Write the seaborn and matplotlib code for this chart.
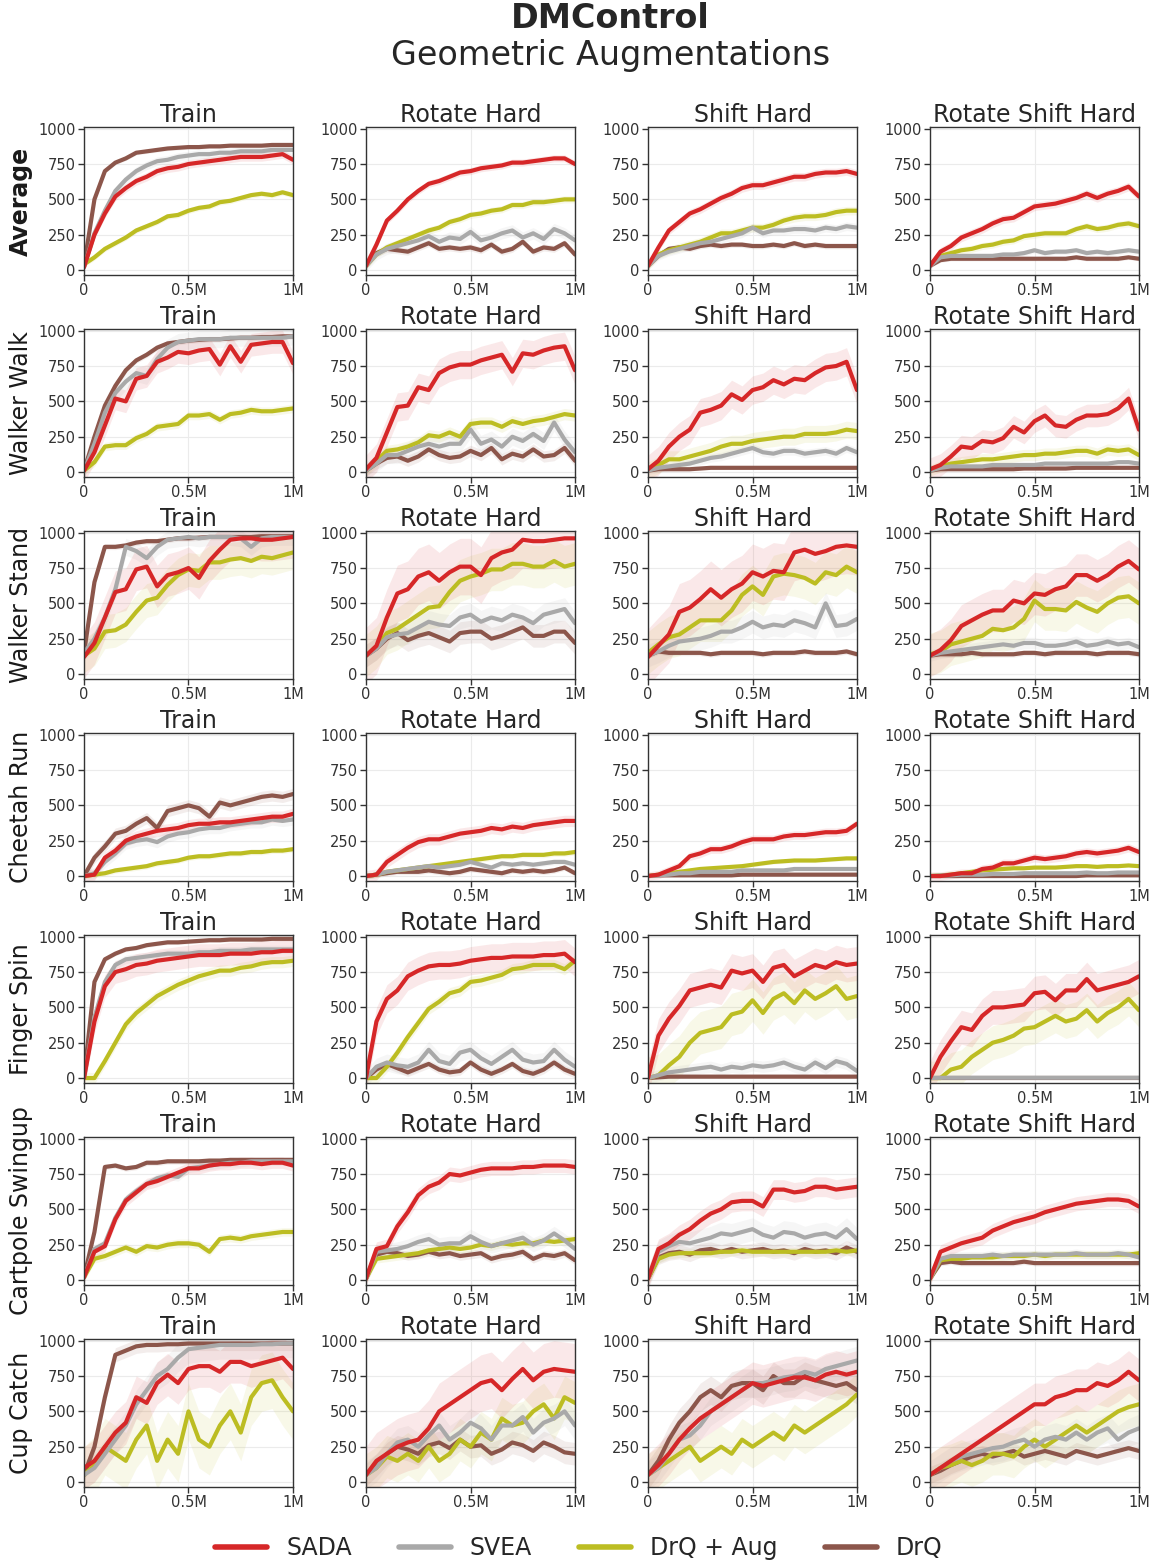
import numpy as np
import pandas as pd
import seaborn as sns
import matplotlib.pyplot as plt
from matplotlib.lines import Line2D

# x axis: evaluation every 50k steps
steps = np.arange(0, 1_000_001, 50_000)

tasks = ["Average", "Walker Walk", "Walker Stand", "Cheetah Run",
         "Finger Spin", "Cartpole Swingup", "Cup Catch"]
settings = ["Train", "Rotate Hard", "Shift Hard", "Rotate Shift Hard"]
methods = ["SADA", "SVEA", "DrQ + Aug", "DrQ"]

# each variable: [train, rotate hard, shift hard, rotate shift hard]
average_sada = [
    [20, 250, 400, 520, 580, 630, 660, 700, 720, 730, 750, 760, 770, 780, 790, 800, 800, 800, 810, 820, 780],
    [30, 180, 350, 420, 500, 560, 610, 630, 660, 690, 700, 720, 730, 740, 760, 760, 770, 780, 790, 790, 750],
    [30, 160, 280, 340, 400, 430, 470, 510, 540, 580, 600, 600, 620, 640, 660, 660, 680, 690, 690, 700, 680],
    [30, 130, 170, 230, 260, 290, 330, 360, 370, 410, 450, 460, 470, 490, 510, 540, 510, 540, 560, 590, 520],
]
average_svea = [
    [20, 260, 420, 560, 640, 700, 740, 770, 780, 800, 810, 820, 820, 830, 830, 840, 840, 840, 850, 850, 850],
    [30, 110, 150, 170, 190, 210, 240, 200, 230, 220, 270, 210, 230, 260, 280, 230, 260, 220, 290, 260, 210],
    [30, 100, 130, 150, 170, 190, 200, 220, 240, 260, 300, 260, 280, 280, 290, 290, 280, 300, 290, 310, 300],
    [30, 90, 100, 100, 100, 100, 100, 110, 110, 120, 140, 120, 130, 130, 140, 120, 130, 120, 130, 140, 130],
]
average_aug = [
    [40, 90, 150, 190, 230, 280, 310, 340, 380, 390, 420, 440, 450, 480, 490, 510, 530, 540, 530, 550, 530],
    [30, 110, 160, 190, 220, 250, 280, 300, 340, 360, 390, 400, 420, 430, 460, 460, 480, 480, 490, 500, 500],
    [30, 110, 140, 160, 180, 200, 230, 260, 260, 280, 300, 300, 320, 350, 370, 380, 380, 390, 410, 420, 420],
    [40, 100, 120, 140, 150, 170, 180, 200, 210, 240, 250, 260, 260, 260, 290, 310, 290, 300, 320, 330, 310],
]
average_drq = [
    [30, 500, 700, 760, 790, 830, 840, 850, 860, 865, 870, 870, 875, 875, 880, 880, 880, 880, 885, 885, 885],
    [30, 120, 150, 140, 130, 160, 190, 150, 160, 150, 160, 140, 180, 130, 150, 200, 130, 160, 150, 190, 110],
    [30, 100, 150, 160, 150, 170, 180, 170, 180, 180, 170, 170, 180, 170, 190, 170, 180, 170, 170, 170, 170],
    [30, 70, 80, 80, 80, 80, 80, 80, 80, 80, 80, 80, 80, 80, 90, 80, 80, 80, 80, 90, 80],
]

walker_walk_sada = [
    [10, 140, 330, 520, 500, 660, 680, 780, 810, 850, 840, 860, 870, 760, 890, 780, 900, 910, 920, 920, 770],
    [20, 100, 280, 460, 470, 600, 580, 700, 740, 760, 760, 790, 810, 830, 710, 840, 830, 860, 880, 890, 720],
    [20, 80, 180, 250, 300, 420, 440, 470, 550, 510, 580, 600, 650, 620, 660, 650, 700, 740, 750, 780, 580],
    [20, 50, 110, 180, 170, 220, 210, 240, 320, 280, 360, 400, 330, 320, 370, 400, 400, 410, 450, 520, 300],
]
walker_walk_svea = [
    [10, 200, 420, 560, 640, 700, 680, 800, 880, 920, 930, 940, 940, 940, 950, 950, 950, 950, 950, 950, 960],
    [10, 60, 120, 120, 150, 180, 200, 180, 200, 200, 300, 200, 230, 180, 250, 220, 270, 220, 350, 230, 140],
    [10, 30, 40, 50, 60, 80, 100, 110, 130, 150, 170, 140, 130, 150, 150, 130, 140, 150, 130, 170, 140],
    [10, 30, 40, 40, 40, 40, 50, 50, 50, 50, 50, 60, 60, 60, 60, 60, 60, 60, 70, 70, 60],
]
walker_walk_aug = [
    [10, 70, 180, 190, 190, 240, 270, 320, 330, 340, 400, 400, 410, 370, 410, 420, 440, 430, 430, 440, 450],
    [10, 80, 150, 160, 180, 210, 260, 250, 280, 250, 340, 350, 350, 320, 360, 340, 360, 370, 390, 410, 400],
    [10, 50, 90, 90, 110, 130, 150, 180, 200, 200, 220, 230, 240, 250, 250, 270, 270, 270, 280, 300, 290],
    [10, 40, 60, 70, 80, 90, 90, 100, 110, 120, 120, 130, 130, 140, 150, 150, 130, 160, 150, 160, 120],
]
walker_walk_drq = [
    [10, 250, 470, 610, 720, 790, 830, 880, 910, 920, 930, 935, 940, 940, 945, 950, 950, 955, 955, 960, 960],
    [10, 60, 100, 110, 80, 110, 160, 120, 100, 110, 150, 120, 170, 90, 130, 110, 160, 110, 120, 170, 80],
    [10, 20, 20, 20, 20, 25, 30, 30, 30, 30, 30, 30, 30, 30, 30, 30, 30, 30, 30, 30, 30],
    [10, 20, 20, 20, 20, 20, 20, 20, 20, 25, 25, 25, 25, 25, 30, 30, 30, 30, 30, 30, 30],
]

walker_stand_sada = [
    [120, 220, 400, 580, 600, 740, 760, 620, 700, 720, 750, 680, 800, 880, 950, 960, 960, 950, 950, 960, 970],
    [130, 200, 400, 570, 600, 690, 720, 660, 720, 760, 760, 700, 820, 860, 880, 950, 940, 940, 950, 960, 960],
    [120, 200, 280, 440, 470, 530, 600, 540, 600, 640, 720, 690, 730, 720, 860, 880, 850, 870, 900, 910, 900],
    [130, 170, 240, 340, 380, 420, 450, 450, 520, 500, 570, 560, 600, 620, 700, 700, 660, 700, 760, 800, 740],
]
walker_stand_svea = [
    [150, 250, 400, 600, 900, 870, 820, 900, 950, 960, 970, 960, 970, 970, 970, 960, 900, 960, 970, 970, 970],
    [130, 180, 260, 280, 290, 330, 370, 350, 340, 400, 420, 370, 400, 380, 420, 400, 360, 420, 440, 460, 360],
    [130, 160, 200, 230, 240, 250, 270, 300, 300, 330, 370, 330, 350, 340, 380, 360, 330, 500, 340, 350, 390],
    [130, 150, 160, 170, 180, 190, 200, 210, 200, 220, 220, 200, 200, 210, 230, 200, 210, 230, 210, 220, 190],
]
walker_stand_aug = [
    [130, 180, 300, 310, 350, 440, 520, 540, 630, 700, 740, 730, 790, 790, 810, 820, 800, 830, 820, 840, 860],
    [130, 190, 290, 320, 370, 420, 470, 480, 580, 660, 690, 710, 740, 740, 780, 780, 760, 760, 800, 760, 780],
    [150, 210, 260, 280, 330, 380, 380, 380, 450, 560, 620, 560, 690, 710, 700, 680, 640, 720, 700, 760, 720],
    [140, 160, 210, 230, 250, 270, 320, 310, 330, 390, 520, 460, 460, 450, 510, 470, 440, 500, 540, 550, 500],
]
walker_stand_drq = [
    [150, 650, 900, 900, 910, 930, 940, 940, 950, 960, 960, 965, 970, 970, 970, 970, 970, 975, 975, 975, 975],
    [130, 180, 250, 290, 240, 270, 290, 260, 230, 290, 300, 300, 250, 270, 300, 330, 270, 270, 300, 300, 220],
    [130, 160, 150, 150, 150, 150, 140, 150, 150, 150, 150, 140, 150, 150, 150, 160, 150, 150, 150, 160, 140],
    [130, 140, 140, 140, 150, 140, 140, 140, 140, 150, 150, 140, 150, 150, 150, 150, 140, 150, 150, 150, 140],
]

cheetah_run_sada = [
    [0, 10, 130, 180, 250, 280, 300, 320, 330, 340, 360, 370, 370, 380, 380, 390, 400, 410, 420, 420, 440],
    [0, 10, 100, 150, 200, 240, 260, 260, 280, 300, 310, 320, 340, 330, 350, 340, 360, 370, 380, 390, 390],
    [0, 10, 40, 70, 140, 160, 190, 190, 210, 240, 260, 260, 260, 280, 290, 290, 300, 310, 310, 320, 370],
    [0, 0, 10, 20, 20, 50, 60, 90, 90, 110, 130, 120, 130, 140, 160, 170, 160, 170, 180, 200, 170],
]
cheetah_run_svea = [
    [0, 20, 100, 160, 230, 250, 260, 240, 280, 300, 310, 330, 340, 340, 360, 370, 380, 380, 400, 390, 400],
    [0, 10, 30, 40, 50, 60, 70, 60, 70, 80, 100, 80, 60, 90, 80, 90, 80, 90, 100, 100, 80],
    [0, 5, 10, 20, 20, 30, 30, 30, 30, 40, 40, 40, 40, 40, 50, 50, 50, 50, 50, 50, 50],
    [0, 5, 5, 10, 10, 10, 15, 15, 15, 20, 20, 20, 20, 20, 20, 25, 20, 20, 25, 25, 25],
]
cheetah_run_aug = [
    [0, 10, 20, 40, 50, 60, 70, 90, 100, 110, 130, 140, 140, 150, 160, 160, 170, 170, 180, 180, 190],
    [0, 10, 30, 40, 50, 60, 70, 80, 90, 100, 110, 120, 130, 140, 140, 150, 150, 150, 160, 160, 170],
    [0, 10, 20, 30, 40, 50, 55, 60, 65, 70, 80, 90, 100, 105, 110, 110, 110, 115, 120, 125, 125],
    [0, 5, 10, 20, 30, 40, 45, 50, 55, 55, 60, 60, 60, 65, 70, 70, 65, 70, 70, 75, 70],
]
cheetah_run_drq = [
    [0, 130, 210, 300, 320, 370, 410, 340, 460, 480, 500, 480, 420, 520, 500, 520, 540, 560, 570, 560, 580],
    [0, 10, 20, 30, 30, 30, 40, 30, 20, 30, 50, 40, 30, 20, 40, 30, 40, 30, 40, 60, 20],
    [0, 5, 5, 5, 5, 5, 5, 5, 5, 10, 10, 10, 10, 10, 10, 10, 10, 10, 10, 10, 10],
    [0, 0, 0, 0, 0, 0, 0, 0, 0, 0, 0, 0, 0, 0, 0, 5, 5, 5, 5, 5, 5],
]

finger_spin_sada = [
    [0, 400, 650, 750, 770, 800, 810, 830, 840, 850, 860, 870, 870, 870, 880, 880, 880, 890, 890, 900, 900],
    [0, 400, 560, 620, 720, 760, 790, 800, 800, 810, 830, 840, 850, 850, 860, 860, 860, 870, 870, 880, 820],
    [0, 300, 420, 510, 620, 640, 660, 640, 760, 740, 760, 680, 780, 800, 720, 760, 800, 780, 820, 800, 810],
    [0, 150, 260, 360, 340, 440, 500, 500, 510, 520, 600, 610, 550, 620, 620, 700, 620, 640, 660, 680, 720],
]
finger_spin_svea = [
    [0, 430, 680, 800, 840, 850, 860, 870, 880, 880, 880, 890, 890, 900, 900, 900, 910, 910, 910, 910, 910],
    [0, 80, 110, 90, 80, 110, 200, 120, 100, 180, 200, 140, 100, 150, 200, 130, 110, 120, 200, 130, 80],
    [0, 20, 40, 50, 60, 70, 80, 60, 80, 70, 90, 80, 90, 110, 80, 60, 110, 70, 120, 100, 50],
    [0, 2, 2, 2, 2, 2, 2, 2, 2, 2, 2, 2, 2, 2, 2, 2, 2, 2, 2, 2, 2],
]
finger_spin_aug = [
    [0, 0, 120, 250, 380, 460, 520, 580, 620, 660, 690, 720, 740, 760, 760, 780, 790, 810, 820, 820, 830],
    [0, 0, 80, 180, 290, 390, 490, 540, 600, 620, 680, 690, 710, 730, 770, 780, 800, 800, 800, 770, 830],
    [0, 20, 90, 150, 250, 320, 340, 360, 450, 470, 550, 460, 560, 600, 530, 620, 560, 600, 650, 560, 580],
    [0, 0, 60, 80, 150, 200, 250, 270, 300, 350, 360, 400, 440, 400, 420, 480, 400, 460, 500, 560, 480],
]
finger_spin_drq = [
    [0, 680, 840, 880, 910, 920, 940, 950, 960, 960, 965, 970, 975, 975, 980, 980, 980, 980, 985, 985, 985],
    [0, 60, 100, 70, 40, 70, 100, 60, 40, 50, 110, 60, 30, 60, 100, 50, 30, 60, 110, 60, 30],
    [0, 5, 10, 10, 10, 10, 10, 10, 10, 10, 10, 10, 10, 10, 10, 10, 10, 10, 10, 10, 10],
    [0, 0, 0, 0, 0, 0, 0, 0, 0, 0, 0, 0, 0, 0, 0, 0, 0, 0, 0, 0, 0],
]

cartpole_sada = [
    [20, 200, 240, 430, 560, 620, 680, 700, 730, 760, 790, 790, 810, 820, 820, 830, 830, 820, 830, 830, 810],
    [10, 220, 240, 380, 480, 600, 660, 690, 750, 740, 760, 780, 790, 790, 790, 800, 800, 810, 810, 810, 800],
    [10, 220, 260, 320, 360, 420, 470, 500, 550, 560, 560, 520, 640, 640, 620, 630, 660, 660, 640, 650, 660],
    [10, 200, 230, 260, 280, 300, 350, 380, 410, 430, 450, 480, 500, 520, 540, 550, 560, 570, 570, 560, 520],
]
cartpole_svea = [
    [20, 220, 260, 440, 570, 630, 680, 720, 740, 730, 790, 800, 810, 820, 830, 830, 840, 840, 840, 840, 840],
    [10, 200, 210, 220, 240, 270, 290, 250, 260, 260, 310, 270, 240, 260, 280, 300, 250, 280, 330, 280, 220],
    [10, 200, 240, 270, 260, 280, 300, 330, 320, 340, 360, 320, 300, 340, 330, 300, 320, 330, 300, 360, 290],
    [10, 150, 170, 170, 170, 170, 180, 170, 180, 180, 180, 180, 180, 180, 190, 180, 180, 180, 190, 180, 160],
]
cartpole_aug = [
    [20, 150, 170, 200, 230, 200, 240, 230, 250, 260, 260, 250, 200, 290, 300, 290, 310, 320, 330, 340, 340],
    [10, 150, 160, 170, 180, 190, 210, 220, 230, 220, 230, 250, 240, 260, 250, 260, 260, 280, 270, 280, 290],
    [10, 150, 180, 190, 190, 190, 190, 200, 200, 210, 200, 200, 200, 200, 200, 200, 200, 200, 210, 200, 210],
    [10, 140, 150, 150, 160, 160, 160, 170, 170, 170, 180, 170, 180, 180, 180, 180, 180, 180, 180, 180, 190],
]
cartpole_drq = [
    [20, 340, 800, 810, 790, 800, 830, 830, 840, 840, 840, 840, 845, 845, 850, 850, 850, 850, 850, 850, 850],
    [10, 180, 200, 190, 170, 180, 200, 180, 190, 170, 180, 190, 150, 170, 180, 200, 150, 180, 170, 190, 140],
    [10, 160, 190, 200, 180, 210, 220, 200, 220, 200, 210, 220, 200, 210, 190, 220, 200, 210, 190, 230, 200],
    [10, 120, 130, 120, 120, 120, 120, 120, 120, 130, 120, 120, 120, 120, 120, 120, 120, 120, 120, 120, 120],
]

cup_catch_sada = [
    [100, 150, 250, 350, 420, 600, 560, 700, 760, 700, 800, 820, 820, 780, 850, 850, 820, 840, 860, 880, 800],
    [50, 150, 200, 250, 280, 300, 380, 500, 550, 600, 650, 700, 720, 650, 730, 800, 720, 780, 800, 790, 780],
    [50, 120, 200, 300, 380, 450, 500, 550, 600, 650, 700, 680, 700, 720, 740, 740, 720, 760, 780, 760, 780],
    [50, 100, 150, 200, 250, 300, 350, 400, 450, 500, 550, 550, 600, 620, 650, 650, 700, 680, 720, 780, 720],
]
cup_catch_svea = [
    [50, 100, 200, 300, 400, 550, 650, 750, 800, 880, 940, 950, 960, 970, 970, 970, 970, 975, 975, 980, 980],
    [50, 100, 200, 280, 300, 250, 330, 400, 300, 350, 420, 380, 300, 400, 400, 460, 350, 420, 450, 500, 400],
    [50, 100, 200, 300, 330, 400, 500, 550, 600, 650, 700, 700, 720, 740, 750, 780, 760, 800, 820, 840, 860],
    [50, 100, 150, 180, 200, 220, 240, 250, 280, 300, 250, 300, 320, 300, 350, 300, 350, 380, 300, 350, 380],
]
cup_catch_aug = [
    [50, 120, 250, 200, 150, 300, 400, 150, 300, 200, 500, 300, 250, 400, 500, 350, 600, 700, 720, 600, 500],
    [50, 100, 180, 150, 200, 150, 250, 150, 200, 300, 250, 350, 300, 450, 400, 420, 500, 550, 450, 600, 560],
    [50, 100, 150, 200, 250, 150, 200, 250, 200, 300, 250, 300, 350, 300, 400, 350, 400, 450, 500, 550, 620],
    [50, 100, 120, 150, 120, 150, 200, 200, 180, 250, 300, 250, 300, 350, 400, 350, 400, 450, 500, 530, 550],
]
cup_catch_drq = [
    [50, 250, 600, 900, 930, 960, 970, 970, 975, 975, 980, 980, 980, 980, 980, 980, 980, 980, 980, 980, 980],
    [50, 120, 200, 250, 230, 200, 260, 280, 240, 300, 250, 260, 200, 230, 280, 260, 220, 280, 250, 210, 200],
    [50, 150, 300, 420, 500, 600, 650, 600, 680, 700, 700, 650, 750, 700, 700, 750, 720, 700, 680, 700, 650],
    [50, 80, 120, 150, 180, 200, 180, 200, 220, 180, 200, 220, 200, 180, 220, 200, 180, 200, 220, 240, 220],
]

# approximate half-width of the shaded band, rows = tasks, cols = settings
band_sada = [[30, 25, 30, 30], [80, 100, 100, 80], [150, 200, 200, 150], [40, 40, 30, 30],
             [80, 100, 120, 120], [40, 50, 70, 50], [150, 200, 150, 150]]
band_svea = [[30, 40, 30, 20], [60, 60, 30, 15], [60, 80, 80, 40], [40, 20, 15, 10],
             [30, 60, 40, 5], [30, 50, 80, 30], [100, 100, 100, 100]]
band_aug = [[20, 25, 30, 25], [30, 40, 60, 40], [120, 150, 150, 150], [20, 20, 15, 10],
            [40, 40, 150, 120], [30, 30, 30, 30], [200, 150, 150, 150]]
band_drq = [[15, 25, 20, 15], [20, 40, 10, 10], [20, 80, 20, 20], [40, 20, 10, 5],
            [15, 30, 5, 5], [20, 30, 50, 20], [50, 80, 100, 60]]

runs = {
    "SADA": [average_sada, walker_walk_sada, walker_stand_sada, cheetah_run_sada,
             finger_spin_sada, cartpole_sada, cup_catch_sada],
    "SVEA": [average_svea, walker_walk_svea, walker_stand_svea, cheetah_run_svea,
             finger_spin_svea, cartpole_svea, cup_catch_svea],
    "DrQ + Aug": [average_aug, walker_walk_aug, walker_stand_aug, cheetah_run_aug,
                  finger_spin_aug, cartpole_aug, cup_catch_aug],
    "DrQ": [average_drq, walker_walk_drq, walker_stand_drq, cheetah_run_drq,
            finger_spin_drq, cartpole_drq, cup_catch_drq],
}
bands = {"SADA": band_sada, "SVEA": band_svea, "DrQ + Aug": band_aug, "DrQ": band_drq}
colors = {"SADA": "#d62728", "SVEA": "#a9a9a9", "DrQ + Aug": "#bcbd22", "DrQ": "#8c564b"}

sns.set_style("whitegrid", {"axes.edgecolor": "#333333", "grid.color": "#ebebeb",
                            "xtick.bottom": True, "ytick.left": True})
plt.rcParams["font.family"] = ["DejaVu Sans"]

W, H = 1154, 1563
fig = plt.figure(figsize=(W / 100, H / 100), dpi=100)

ax_w, ax_h = 209, 148
lefts = [84, 366, 648, 930]
tops = [127 + 202 * i for i in range(7)]

for r, task in enumerate(tasks):
    for c, setting in enumerate(settings):
        ax = fig.add_axes([lefts[c] / W, 1 - (tops[r] + ax_h) / H, ax_w / W, ax_h / H])
        # draw back to front so SADA ends on top
        for m in ["DrQ", "DrQ + Aug", "SVEA", "SADA"]:
            y = np.array(runs[m][r][c], dtype=float)
            df = pd.DataFrame({"step": steps, "return": y})
            s = bands[m][r][c]
            ax.fill_between(steps, y - s, y + s, color=colors[m], alpha=0.1, lw=0)
            sns.lineplot(data=df, x="step", y="return", ax=ax, color=colors[m],
                         lw=3, errorbar=None)
        ax.set_xlim(0, 1_000_000)
        ax.set_ylim(-35, 1012)
        ax.set_xticks([0, 500_000, 1_000_000])
        ax.set_xticklabels(["0", "0.5M", "1M"])
        ax.set_yticks([0, 250, 500, 750, 1000])
        ax.tick_params(labelsize=10.5, colors="#333333", length=4, width=1, pad=2)
        for sp in ax.spines.values():
            sp.set_color("#333333")
            sp.set_linewidth(1)
        ax.set_xlabel("")
        ax.set_title(setting, fontsize=17, color="#262626", pad=1)
        if c == 0:
            ax.set_ylabel(task, fontsize=17, color="#1a1a1a",
                          fontweight="bold" if task == "Average" else "normal", labelpad=4)
        else:
            ax.set_ylabel("")

fig.text(0.529, 1 - 18 / H, "DMControl", ha="center", va="center",
         fontsize=24, fontweight="bold", color="#262626")
fig.text(0.529, 1 - 56 / H, "Geometric Augmentations", ha="center", va="center",
         fontsize=24, color="#262626")

handles = [Line2D([], [], color=colors[m], lw=4) for m in methods]
fig.legend(handles, methods, loc="center", bbox_to_anchor=(579 / W, 1 - 1548 / H),
           ncol=4, frameon=False, fontsize=17, handlelength=2.2, columnspacing=2.0,
           handletextpad=0.8)

fig.savefig("out.png", dpi=100)
